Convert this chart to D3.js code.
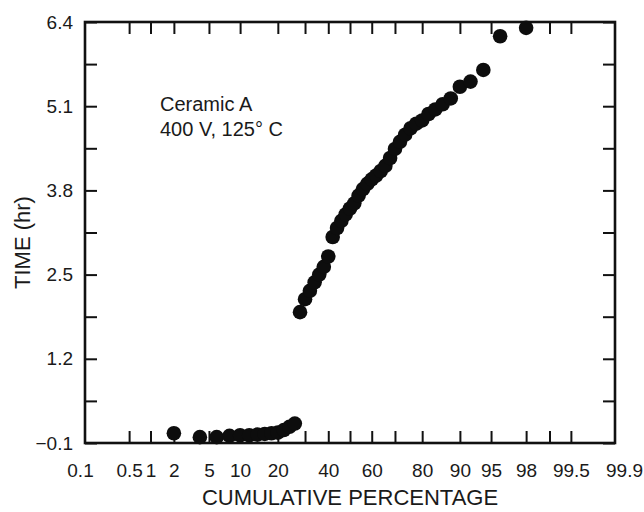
<!DOCTYPE html>
<html>
<head>
<meta charset="utf-8">
<script src="https://cdn.jsdelivr.net/npm/d3@7"></script>
<style>
  html, body { margin: 0; padding: 0; background: #fff; }
  svg { display: block; }
  text { font-family: "Liberation Sans", Arial, Helvetica, sans-serif; fill: #1a1a1a; }
</style>
</head>
<body>
<svg id="chart" width="644" height="512"></svg>
<script>
// ---- data ----
const cumulativePct = [2, 4, 6, 8, 10, 12, 14, 16, 18, 20, 22, 24, 26,
  28, 30, 32, 34, 36, 38, 40, 42, 44, 46, 48, 50, 52, 54, 56, 58, 60,
  62, 64, 66, 68, 70, 72, 74, 76, 78, 80, 82, 84, 86, 88, 90, 92, 94, 96, 98];
const timeHr = [0.05, -0.01, -0.01, 0.01, 0.02, 0.02, 0.03, 0.04, 0.05, 0.06, 0.10, 0.15, 0.20,
  1.92, 2.12, 2.25, 2.38, 2.50, 2.62, 2.78, 3.08, 3.22, 3.33, 3.43, 3.52, 3.60, 3.72, 3.82, 3.90, 3.97,
  4.03, 4.10, 4.18, 4.30, 4.44, 4.55, 4.66, 4.76, 4.83, 4.88, 4.98, 5.05, 5.13, 5.22, 5.40, 5.48, 5.66, 6.18, 6.31];

const xTickPct = [0.5, 1, 2, 5, 10, 20, 30, 40, 50, 60, 70, 80, 90, 95, 98, 99, 99.5];
const xLabelPct = [0.1, 0.5, 1, 2, 5, 10, 20, 40, 60, 80, 90, 95, 98, 99.5, 99.9];
const yMajorTicks = [-0.1, 1.2, 2.5, 3.8, 5.1, 6.4];
const yMinorTicks = [0.55, 1.85, 3.15, 4.45, 5.75];
const annotation = ["Ceramic A", "400 V, 125\u00B0 C"];
const xTitle = "CUMULATIVE PERCENTAGE";
const yTitle = "TIME (hr)";

// inverse normal CDF (Acklam) for the probability axis
function probit(p) {
  const a = [-3.969683028665376e+01, 2.209460984245205e+02, -2.759285104469687e+02, 1.383577518672690e+02, -3.066479806614716e+01, 2.506628277459239e+00];
  const b = [-5.447609879822406e+01, 1.615858368580409e+02, -1.556989798598866e+02, 6.680131188771972e+01, -1.328068155288572e+01];
  const c = [-7.784894002430293e-03, -3.223964580411365e-01, -2.400758277161838e+00, -2.549732539343734e+00, 4.374664141464968e+00, 2.938163982698783e+00];
  const d = [7.784695709041462e-03, 3.224671290700398e-01, 2.445134137142996e+00, 3.754408661907416e+00];
  const pl = 0.02425, ph = 1 - pl;
  let q, r;
  if (p < pl) {
    q = Math.sqrt(-2 * Math.log(p));
    return (((((c[0]*q+c[1])*q+c[2])*q+c[3])*q+c[4])*q+c[5]) / ((((d[0]*q+d[1])*q+d[2])*q+d[3])*q+1);
  }
  if (p <= ph) {
    q = p - 0.5; r = q * q;
    return (((((a[0]*r+a[1])*r+a[2])*r+a[3])*r+a[4])*r+a[5])*q / (((((b[0]*r+b[1])*r+b[2])*r+b[3])*r+b[4])*r+1);
  }
  q = Math.sqrt(-2 * Math.log(1 - p));
  return -(((((c[0]*q+c[1])*q+c[2])*q+c[3])*q+c[4])*q+c[5]) / ((((d[0]*q+d[1])*q+d[2])*q+d[3])*q+1);
}
const z = pct => probit(pct / 100);

// ---- layout ----
const margin = { left: 85, right: 29, top: 22, bottom: 69 };
const W = 644, H = 512;
const iw = W - margin.left - margin.right;
const ih = H - margin.top - margin.bottom;

const svg = d3.select("#chart");
const g = svg.append("g").attr("transform", `translate(${margin.left},${margin.top})`);

const x = d3.scaleLinear().domain([z(0.1), z(99.9)]).range([0, iw]);
const y = d3.scaleLinear().domain([-0.1, 6.4]).range([ih, 0]);

const tickLen = 12;
const fmtY = v => (v < 0 ? "\u2212" : "") + Math.abs(v).toFixed(1);

function styleAxis(sel) {
  sel.select(".domain").remove();
  sel.selectAll(".tick line").attr("stroke", "#111").attr("stroke-width", 2);
  sel.selectAll(".tick text").attr("fill", "#1a1a1a").style("font-size", "19px")
     .style("font-family", "'Liberation Sans', Arial, Helvetica, sans-serif");
}

// bottom & top tick marks (inward)
g.append("g").attr("transform", `translate(0,${ih})`)
  .call(d3.axisBottom(x).tickValues(xTickPct.map(z)).tickSize(-tickLen).tickFormat(""))
  .call(styleAxis);
g.append("g")
  .call(d3.axisTop(x).tickValues(xTickPct.map(z)).tickSize(-tickLen).tickFormat(""))
  .call(styleAxis);

// bottom labels
const labelMap = new Map(xLabelPct.map(p => [z(p), String(p)]));
const xl = g.append("g").attr("transform", `translate(0,${ih})`)
  .call(d3.axisBottom(x).tickValues(xLabelPct.map(z)).tickSize(0).tickPadding(21)
        .tickFormat(v => labelMap.get(v)))
  .call(styleAxis);
const xlTexts = xl.selectAll(".tick text");
xlTexts.filter((d, i) => i === 0).attr("dx", -5);
xlTexts.filter((d, i, n) => i === n.length - 1).attr("dx", 9);

// left axis with labels, right axis ticks
const allY = yMajorTicks.concat(yMinorTicks);
g.append("g")
  .call(d3.axisLeft(y).tickValues(allY).tickSize(-tickLen).tickPadding(12)
        .tickFormat(v => yMajorTicks.includes(v) ? fmtY(v) : ""))
  .call(styleAxis);
g.append("g").attr("transform", `translate(${iw},0)`)
  .call(d3.axisRight(y).tickValues(allY).tickSize(-tickLen).tickFormat(""))
  .call(styleAxis);

// frame
g.append("rect").attr("x", 0).attr("y", 0).attr("width", iw).attr("height", ih)
  .attr("fill", "none").attr("stroke", "#111").attr("stroke-width", 2.6);

// points
const pts = cumulativePct.map((p, i) => ({ p, t: timeHr[i] }));
g.append("g").selectAll("circle").data(pts).join("circle")
  .attr("cx", d => x(z(d.p)))
  .attr("cy", d => y(d.t))
  .attr("r", 7.3)
  .attr("fill", "#0d0d0d");

// annotation
const ann = g.append("text").style("font-size", "20px");
ann.selectAll("tspan").data(annotation).join("tspan")
  .attr("x", 75).attr("y", (d, i) => 89 + i * 25).text(d => d);

// axis titles
svg.append("text").attr("x", margin.left + iw / 2).attr("y", 505)
  .attr("text-anchor", "middle").style("font-size", "22px").text(xTitle);
svg.append("text").attr("transform", `translate(30,${margin.top + ih / 2 + 10}) rotate(-90)`)
  .attr("text-anchor", "middle").style("font-size", "22px").text(yTitle);
</script>
</body>
</html>
